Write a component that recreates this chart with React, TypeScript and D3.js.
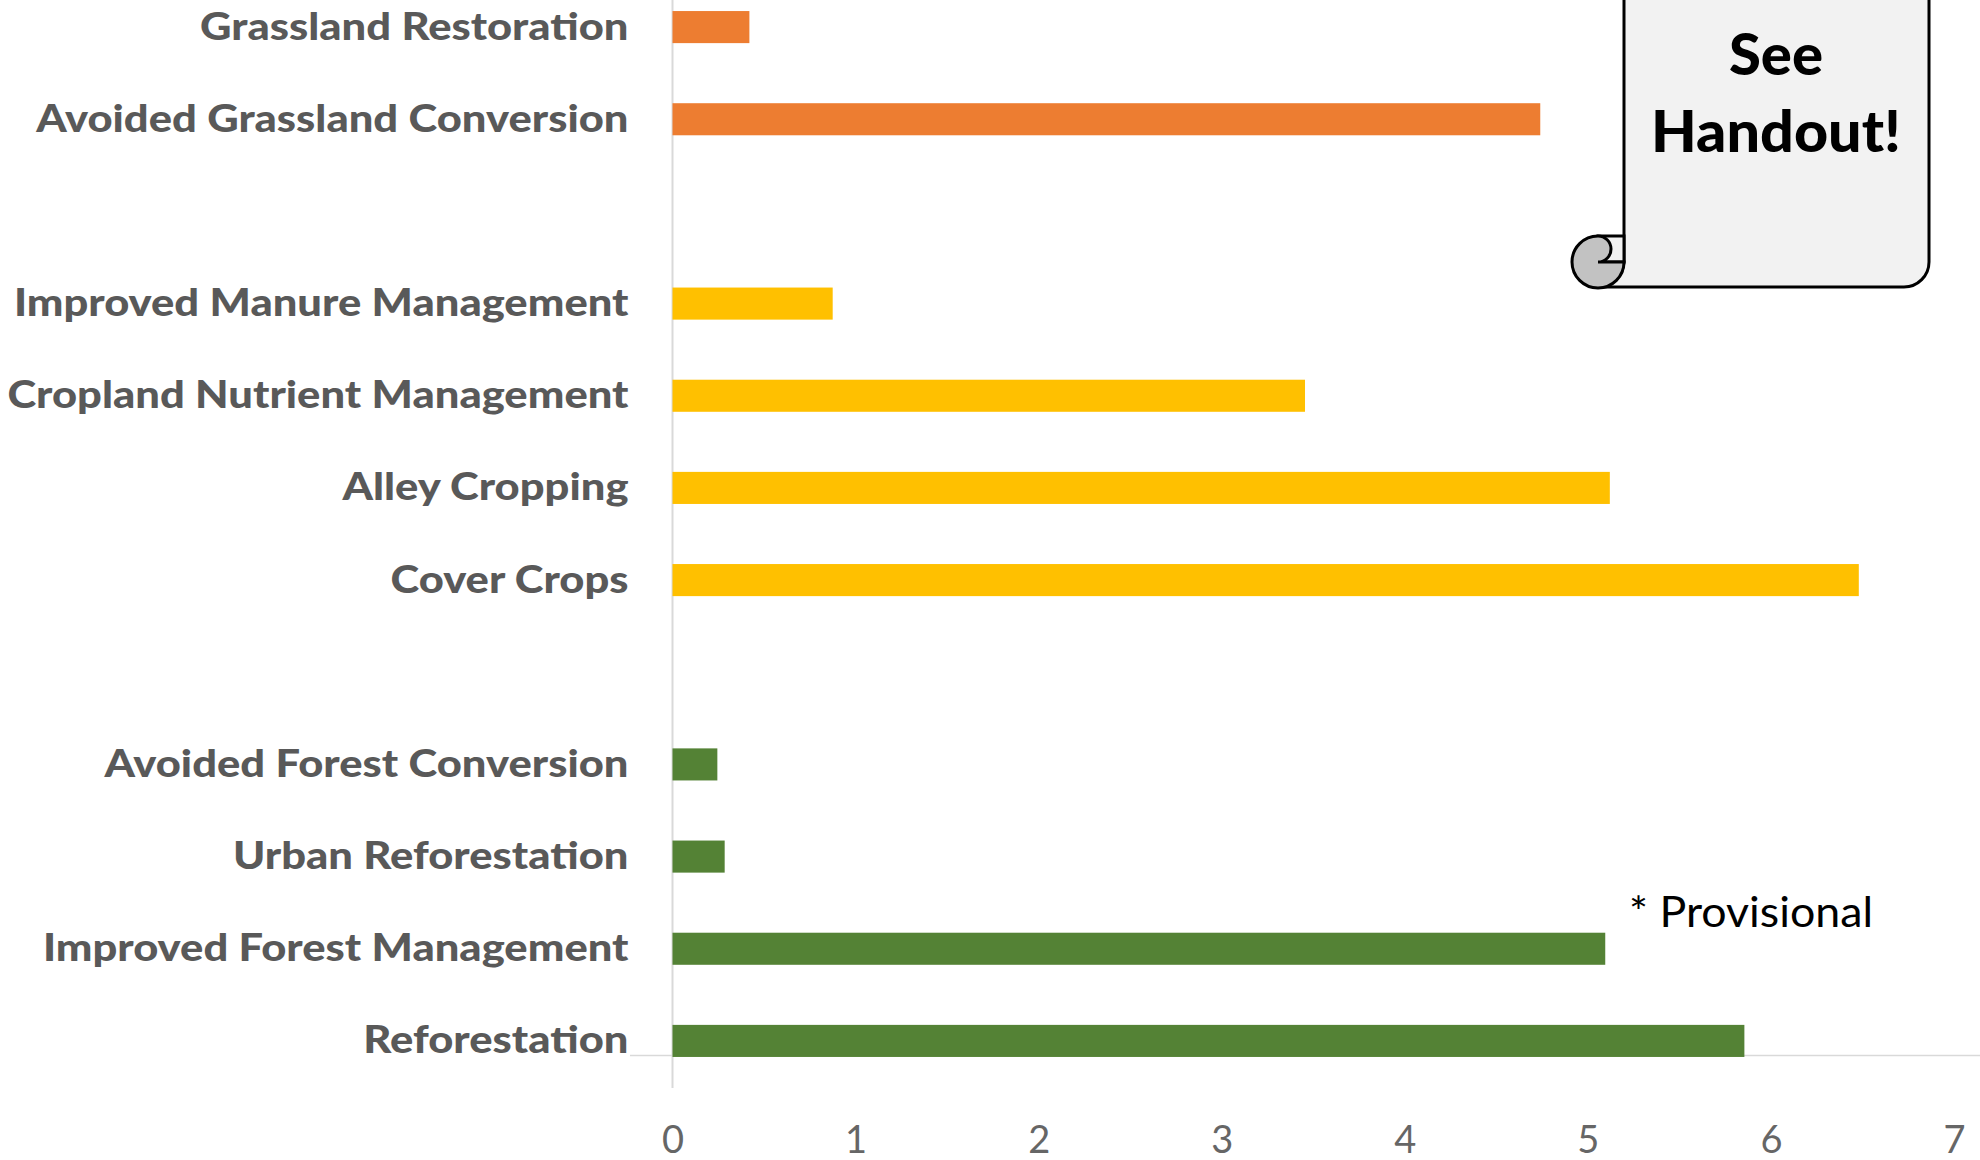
import React, { useEffect, useRef } from 'react';
import * as d3 from 'd3';

// top to bottom, blank slots separate the three groups
const categories = [
  'Grassland Restoration', 'Avoided Grassland Conversion', 'gap1',
  'Improved Manure Management', 'Cropland Nutrient Management', 'Alley Cropping', 'Cover Crops', 'gap2',
  'Avoided Forest Conversion', 'Urban Reforestation', 'Improved Forest Management', 'Reforestation',
];
const values = [0.42, 4.74, 0, 0.875, 3.455, 5.12, 6.48, 0, 0.245, 0.285, 5.095, 5.855];
const colors = ['#ED7D31', '#ED7D31', 'none', '#FFC000', '#FFC000', '#FFC000', '#FFC000', 'none', '#548235', '#548235', '#548235', '#548235'];
const xTicks = [0, 1, 2, 3, 4, 5, 6, 7];

const width = 1980;
const height = 1160;
const font = 'Lato, sans-serif';

export default function App() {
  const ref = useRef<SVGSVGElement>(null);

  useEffect(() => {
    if (!ref.current) return;
    const svg = d3.select(ref.current);
    svg.selectAll('*').remove();

    const x = d3.scaleLinear().domain([0, 7]).range([672.5, 1954]);
    const y = d3.scaleBand().domain(categories).range([-19, 1087]).paddingInner(0.652).paddingOuter(0.326);

    // long baseline, runs past both ends of the scale
    svg.append('line').attr('x1', 630).attr('x2', 1980).attr('y1', 1055.5).attr('y2', 1055.5)
      .attr('stroke', '#D9D9D9').attr('stroke-width', 1.5);

    const yAxis = svg.append('g').attr('transform', `translate(${x(0)},0)`)
      .call(d3.axisLeft(y).tickSize(0).tickPadding(44));
    yAxis.select('.domain').remove();
    yAxis.append('line').attr('y1', 0).attr('y2', 1088).attr('stroke', '#D9D9D9').attr('stroke-width', 2);
    yAxis.selectAll('.tick').filter((d: any) => String(d).startsWith('gap')).remove();
    yAxis.selectAll('text').attr('font-family', font).attr('font-weight', 900).attr('font-size', '38px')
      .attr('fill', '#595959').attr('dy', '0.33em');
    // stretch to the wide setting of the original labels
    yAxis.selectAll('text').each(function () {
      const t = this as SVGTextElement;
      t.setAttribute('textLength', String(t.getComputedTextLength() * 1.145));
      t.setAttribute('lengthAdjust', 'spacingAndGlyphs');
    });

    svg.append('g').selectAll('rect').data(categories).enter().append('rect')
      .attr('x', x(0)).attr('y', d => y(d)!)
      .attr('width', (_, i) => x(values[i]) - x(0)).attr('height', y.bandwidth())
      .attr('fill', (_, i) => colors[i]);

    const xAxis = svg.append('g').attr('transform', 'translate(0,1088)')
      .call(d3.axisBottom(x).tickValues(xTicks).tickFormat(d3.format('d')).tickSize(0).tickPadding(38));
    xAxis.select('.domain').remove();
    xAxis.selectAll('text').attr('font-family', font).attr('font-size', '38px').attr('fill', '#666666');

    // handout scroll callout
    const scroll = svg.append('g').attr('stroke', '#000').attr('stroke-width', 3);
    scroll.append('path').attr('fill', '#F2F2F2')
      .attr('d', 'M1624,-5 H1929 V262 A25,25 0 0 1 1904,287 H1598 A26,26 0 0 0 1624,262 Z');
    scroll.append('path').attr('fill', '#F2F2F2').attr('d', 'M1598,236 H1624 V262 H1598 Z');
    scroll.append('path').attr('fill', '#C2C2C2')
      .attr('d', 'M1598,236 A26,26 0 1 0 1624,262 H1598 A13,13 0 0 0 1598,236 Z');

    const note = svg.append('g').attr('font-family', font).attr('fill', '#000');
    note.append('text').attr('x', 1776).attr('y', 75).attr('text-anchor', 'middle')
      .attr('font-weight', 900).attr('font-size', '58px').text('See');
    note.append('text').attr('x', 1776).attr('y', 152).attr('text-anchor', 'middle')
      .attr('font-weight', 900).attr('font-size', '58px').attr('textLength', 250).attr('lengthAdjust', 'spacingAndGlyphs').text('Handout!');
    note.append('text').attr('x', 1629).attr('y', 927).attr('font-size', '42px')
      .attr('textLength', 244).attr('lengthAdjust', 'spacingAndGlyphs').text('* Provisional');
  }, []);

  return <svg ref={ref} width={width} height={height} style={{ position: 'absolute', left: 0, top: 0, background: '#fff' }} />;
}
